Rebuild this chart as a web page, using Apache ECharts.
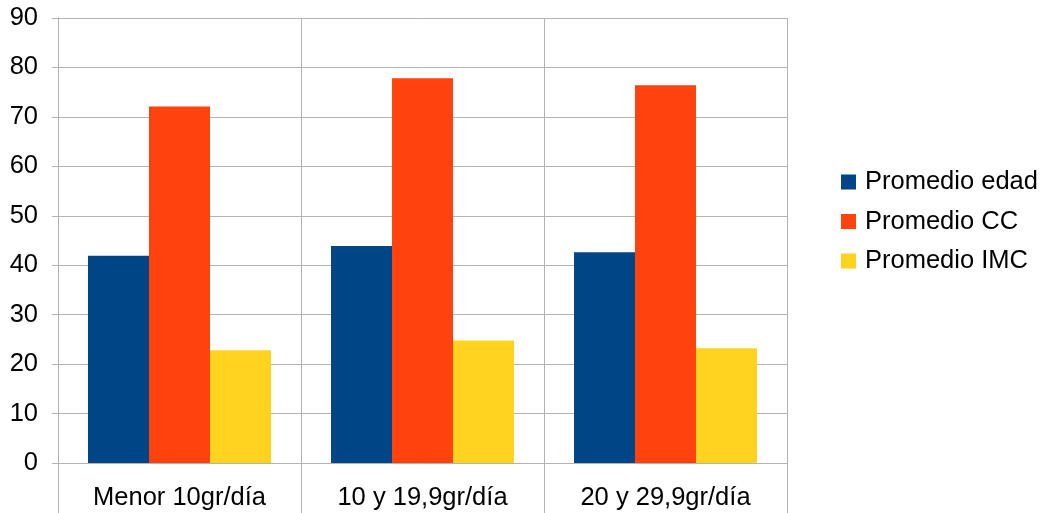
<!DOCTYPE html>
<html>
<head>
<meta charset="utf-8">
<script src="https://cdn.jsdelivr.net/npm/echarts@6/dist/echarts.min.js"></script>
<style>
  html, body { margin: 0; padding: 0; background: #ffffff; }
  #chart { width: 1045px; height: 513px; }
</style>
</head>
<body>
<div id="chart"></div>
<script>
// Categories and series values
const categories = ['Menor 10gr/día', '10 y 19,9gr/día', '20 y 29,9gr/día'];
const seriesNames = ['Promedio edad', 'Promedio CC', 'Promedio IMC'];
const promedioEdad = [41.9, 43.9, 42.6];
const promedioCC = [72.1, 77.8, 76.4];
const promedioIMC = [22.8, 24.8, 23.2];
const colors = ['#004586', '#ff420e', '#ffd320'];

const chart = echarts.init(document.getElementById('chart'), null, { renderer: 'canvas' });
const font = '"Liberation Sans", Arial, sans-serif';
const fontSize = 25.5;

chart.setOption({
  animation: false,
  backgroundColor: '#ffffff',
  grid: { left: 58, top: 18, right: 258, bottom: 50, containLabel: false },
  legend: {
    orient: 'vertical',
    left: 836,
    top: 164,
    itemWidth: 15,
    itemHeight: 15,
    itemGap: 13.5,
    icon: 'rect',
    textStyle: { fontFamily: font, fontSize: fontSize, color: '#000000', padding: [0, 0, 0, 4] },
    data: seriesNames
  },
  xAxis: {
    type: 'category',
    data: categories,
    boundaryGap: true,
    axisLine: { show: true, lineStyle: { color: '#b3b3b3', width: 1 } },
    axisTick: { show: true, length: 50, lineStyle: { color: '#b3b3b3' } },
    splitLine: { show: true, lineStyle: { color: '#b3b3b3', width: 1 } },
    axisLabel: { fontFamily: font, fontSize: fontSize, color: '#000000', margin: 22 }
  },
  yAxis: {
    type: 'value',
    min: 0,
    max: 90,
    interval: 10,
    axisLine: { show: true, lineStyle: { color: '#b3b3b3' } },
    axisTick: { show: true, length: 6, lineStyle: { color: '#b3b3b3' } },
    splitLine: { show: true, lineStyle: { color: '#b3b3b3', width: 1 } },
    axisLabel: { fontFamily: font, fontSize: fontSize, color: '#000000', margin: 20 }
  },
  series: [
    { name: seriesNames[0], type: 'bar', data: promedioEdad, itemStyle: { color: colors[0] }, barGap: '0%', barCategoryGap: '24.7%' },
    { name: seriesNames[1], type: 'bar', data: promedioCC, itemStyle: { color: colors[1] }, barGap: '0%', barCategoryGap: '24.7%' },
    { name: seriesNames[2], type: 'bar', data: promedioIMC, itemStyle: { color: colors[2] }, barGap: '0%', barCategoryGap: '24.7%' }
  ]
});
</script>
</body>
</html>
